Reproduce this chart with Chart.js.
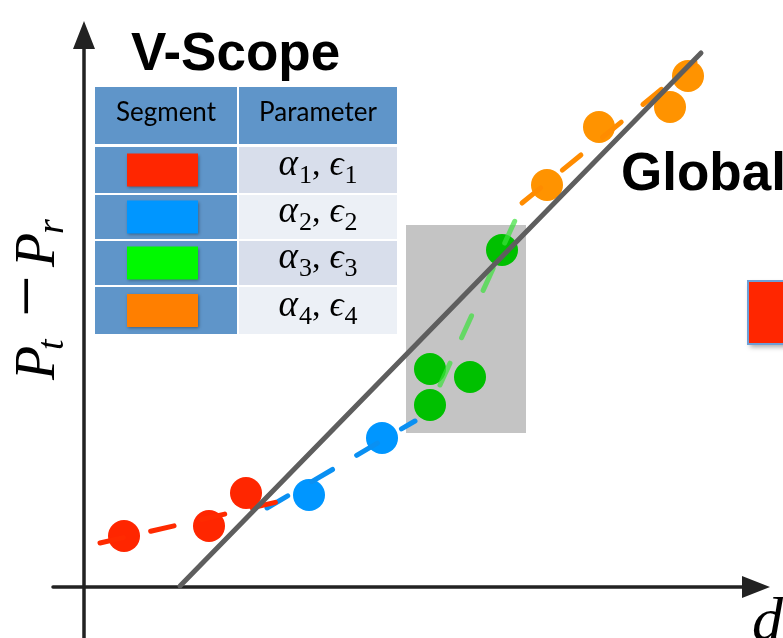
<!DOCTYPE html>
<html>
<head>
<meta charset="utf-8">
<script src="https://cdn.jsdelivr.net/npm/chart.js@4.4.0/dist/chart.umd.min.js"></script>
<style>
  html, body { margin: 0; padding: 0; background: #fff; overflow: hidden; }
  canvas { display: block; }
</style>
</head>
<body>
<canvas id="chart" width="783" height="638"></canvas>
<script>
// Measured samples per segment (d on x, Pt - Pr on y)
const RED_X = [4.0, 12.5, 16.2];
const RED_Y = [5.1, 6.1, 9.4];
const BLUE_X = [22.5, 29.8];
const BLUE_Y = [9.2, 14.9];
const GREEN_X = [34.6, 34.6, 38.6, 41.8];
const GREEN_Y = [18.2, 21.8, 21.0, 33.7];
const ORANGE_X = [46.3, 51.5, 58.6, 60.4];
const ORANGE_Y = [40.2, 46.0, 48.0, 51.1];

// Per-segment linear fits (end points)
const RED_FIT_X = [1.6, 19.3];
const RED_FIT_Y = [4.4, 8.5];
const BLUE_FIT_X = [18.3, 33.1];
const BLUE_FIT_Y = [7.9, 16.6];
const GREEN_FIT_X = [35.6, 43.9];
const GREEN_FIT_Y = [20.2, 38.4];
const ORANGE_FIT_X = [43.8, 61.1];
const ORANGE_FIT_Y = [38.4, 52.5];

// Single global fit
const GLOBAL_FIT_X = [9.6, 61.7];
const GLOBAL_FIT_Y = [0.1, 53.4];

// Highlighted window and axis extents
const SHADE_X = [32.2, 44.2];
const SHADE_Y = [15.4, 36.2];
const AXIS_X_RANGE = [-3.1, 68.6];
const AXIS_Y_RANGE = [-5.2, 56.6];

// Legend table
const TABLE_HEAD = ["Segment", "Parameter"];
const SEGMENT_SUBS = ["1", "2", "3", "4"];

const C = {
  red: "#ff2600",
  blue: "#0096ff",
  green: "#00c000",
  orange: "#ff9300",
  redFit: "#ff2a00",
  blueFit: "#0a90f2",
  greenFit: "rgba(60, 225, 60, 0.7)",
  orangeFit: "#ff8c00",
  global: "#5e5e5e",
  axis: "#222222",
  shade: "#c4c4c4",
  head: "#5f95c9",
  rowA: "#d8deeb",
  rowB: "#ecf0f6",
};
const SWATCHES = ["#ff2600", "#0096ff", "#00f900", "#ff7f00"];

const pts = (xs, ys) => xs.map((x, i) => ({ x, y: ys[i] }));

function fitLine(xs, ys, color, dashed, order) {
  return {
    type: "line",
    data: pts(xs, ys),
    borderColor: color,
    borderWidth: 5,
    borderCapStyle: "round",
    borderDash: dashed ? [24, 28] : [],
    pointRadius: 0,
    fill: false,
    clip: false,
    order,
  };
}

function dots(xs, ys, color) {
  return {
    type: "scatter",
    data: pts(xs, ys),
    backgroundColor: color,
    borderWidth: 0,
    pointRadius: 16,
    pointHoverRadius: 16,
    clip: false,
    order: 2,
  };
}

// draw a run of text pieces [{t, font, dy}] starting at x
function drawRuns(ctx, runs, x, y) {
  let cx = x;
  runs.forEach(r => {
    ctx.font = r.font;
    ctx.fillText(r.t, cx, y + (r.dy || 0));
    cx += ctx.measureText(r.t).width + (r.gap || 0);
  });
}
function runsWidth(ctx, runs) {
  let w = 0;
  runs.forEach(r => {
    ctx.font = r.font;
    w += ctx.measureText(r.t).width + (r.gap || 0);
  });
  return w;
}

const MATH = "'Liberation Serif', 'DejaVu Serif', serif";

const decor = {
  id: "decor",
  beforeDatasetsDraw(chart) {
    const { ctx, scales: { x, y } } = chart;
    ctx.save();

    // shaded window
    const sx0 = x.getPixelForValue(SHADE_X[0]);
    const sx1 = x.getPixelForValue(SHADE_X[1]);
    const sy0 = y.getPixelForValue(SHADE_Y[1]);
    const sy1 = y.getPixelForValue(SHADE_Y[0]);
    ctx.fillStyle = C.shade;
    ctx.fillRect(sx0, sy0, sx1 - sx0, sy1 - sy0);

    // axes with arrow heads
    const ox = x.getPixelForValue(0);
    const oy = y.getPixelForValue(0);
    const xTip = x.getPixelForValue(AXIS_X_RANGE[1]);
    const yTip = y.getPixelForValue(AXIS_Y_RANGE[1]);
    ctx.strokeStyle = C.axis;
    ctx.fillStyle = C.axis;
    ctx.lineWidth = 3.5;
    ctx.lineCap = "round";
    ctx.beginPath();
    ctx.moveTo(x.getPixelForValue(AXIS_X_RANGE[0]), oy);
    ctx.lineTo(xTip - 20, oy);
    ctx.moveTo(ox, y.getPixelForValue(AXIS_Y_RANGE[0]));
    ctx.lineTo(ox, yTip + 20);
    ctx.stroke();
    ctx.beginPath();
    ctx.moveTo(xTip, oy);
    ctx.lineTo(xTip - 28, oy - 11);
    ctx.lineTo(xTip - 28, oy + 11);
    ctx.closePath();
    ctx.moveTo(ox, yTip);
    ctx.lineTo(ox - 11, yTip + 28);
    ctx.lineTo(ox + 11, yTip + 28);
    ctx.closePath();
    ctx.fill();
    ctx.restore();
  },
  afterDraw(chart) {
    const { ctx } = chart;
    ctx.save();
    ctx.textBaseline = "alphabetic";
    ctx.fillStyle = "#000";

    // titles
    ctx.font = "bold 53px 'Liberation Sans', Arial, sans-serif";
    ctx.textAlign = "left";
    ctx.fillText("V-Scope", 131, 70);
    ctx.fillText("Global", 621, 190);

    // legend table
    const L = 95, M = 237, R = 397;
    const rows = [147, 195, 241, 287, 336];
    ctx.fillStyle = C.head;
    ctx.fillRect(L, 87, M - L, 57);
    ctx.fillRect(M + 2, 87, R - M - 2, 57);
    for (let i = 0; i < 4; i++) {
      const top = rows[i], bot = rows[i + 1] - 2;
      ctx.fillStyle = C.head;
      ctx.fillRect(L, top, M - L, bot - top);
      ctx.fillStyle = i % 2 === 0 ? C.rowA : C.rowB;
      ctx.fillRect(M + 2, top, R - M - 2, bot - top);
    }
    ctx.fillStyle = "#000";
    ctx.font = "26px Lato, 'Open Sans', sans-serif";
    ctx.textAlign = "center";
    ctx.fillText(TABLE_HEAD[0], (L + M) / 2, 121);
    ctx.fillText(TABLE_HEAD[1], (M + 2 + R) / 2, 121);

    for (let i = 0; i < 4; i++) {
      const top = rows[i], bot = rows[i + 1] - 2;
      const mid = (top + bot) / 2;
      ctx.save();
      ctx.shadowColor = "rgba(0,0,0,0.35)";
      ctx.shadowBlur = 3;
      ctx.shadowOffsetX = 1;
      ctx.shadowOffsetY = 1;
      ctx.fillStyle = SWATCHES[i];
      ctx.fillRect(127, mid - 16.5, 71, 33);
      ctx.restore();

      const s = SEGMENT_SUBS[i];
      const runs = [
        { t: "\u03b1", font: `italic 37px ${MATH}`, gap: 1 },
        { t: s, font: `26px ${MATH}`, dy: 8 },
        { t: ",", font: `34px ${MATH}`, gap: 9 },
        { t: "\u03f5", font: `italic 35px ${MATH}`, gap: 1 },
        { t: s, font: `26px ${MATH}`, dy: 8 },
      ];
      ctx.textAlign = "left";
      ctx.fillStyle = "#000";
      const w = runsWidth(ctx, runs);
      drawRuns(ctx, runs, (M + 2 + R) / 2 - w / 2, mid + 5);
    }

    // partially visible red box on the right
    ctx.save();
    ctx.shadowColor = "rgba(0,0,0,0.35)";
    ctx.shadowBlur = 5;
    ctx.shadowOffsetX = 2;
    ctx.shadowOffsetY = 3;
    ctx.fillStyle = "#ff2600";
    ctx.fillRect(748, 281, 60, 63);
    ctx.restore();
    ctx.strokeStyle = "#6e9fd6";
    ctx.lineWidth = 2;
    ctx.strokeRect(748, 281, 60, 63);

    // axis labels
    ctx.fillStyle = "#000";
    ctx.textAlign = "left";
    ctx.font = `italic 62px ${MATH}`;
    ctx.fillText("d", 752, 640);

    ctx.save();
    ctx.translate(54, 377);
    ctx.rotate(-Math.PI / 2);
    ctx.font = `italic 56px ${MATH}`;
    ctx.fillText("P", -3, 0);
    ctx.font = `italic 38px ${MATH}`;
    ctx.fillText("t", 27, 9);
    ctx.font = `74px ${MATH}`;
    ctx.fillText("\u2212", 60, -3);
    ctx.font = `italic 56px ${MATH}`;
    ctx.fillText("P", 110, 0);
    ctx.font = `italic 38px ${MATH}`;
    ctx.fillText("r", 143, 9);
    ctx.restore();

    ctx.restore();
  },
};

new Chart(document.getElementById("chart"), {
  data: {
    datasets: [
      fitLine(GLOBAL_FIT_X, GLOBAL_FIT_Y, C.global, false, 0),
      fitLine(RED_FIT_X, RED_FIT_Y, C.redFit, true, 1),
      fitLine(BLUE_FIT_X, BLUE_FIT_Y, C.blueFit, true, 1),
      fitLine(GREEN_FIT_X, GREEN_FIT_Y, C.greenFit, true, 1),
      fitLine(ORANGE_FIT_X, ORANGE_FIT_Y, C.orangeFit, true, 1),
      dots(RED_X, RED_Y, C.red),
      dots(BLUE_X, BLUE_Y, C.blue),
      dots(GREEN_X, GREEN_Y, C.green),
      dots(ORANGE_X, ORANGE_Y, C.orange),
    ],
  },
  options: {
    responsive: false,
    animation: false,
    events: [],
    layout: { padding: 0, autoPadding: false },
    plugins: { legend: { display: false }, tooltip: { enabled: false } },
    scales: {
      x: { type: "linear", min: -8.4, max: 69.9, display: false },
      y: { type: "linear", min: -5.1, max: 58.7, display: false },
    },
  },
  plugins: [decor],
});
</script>
</body>
</html>
